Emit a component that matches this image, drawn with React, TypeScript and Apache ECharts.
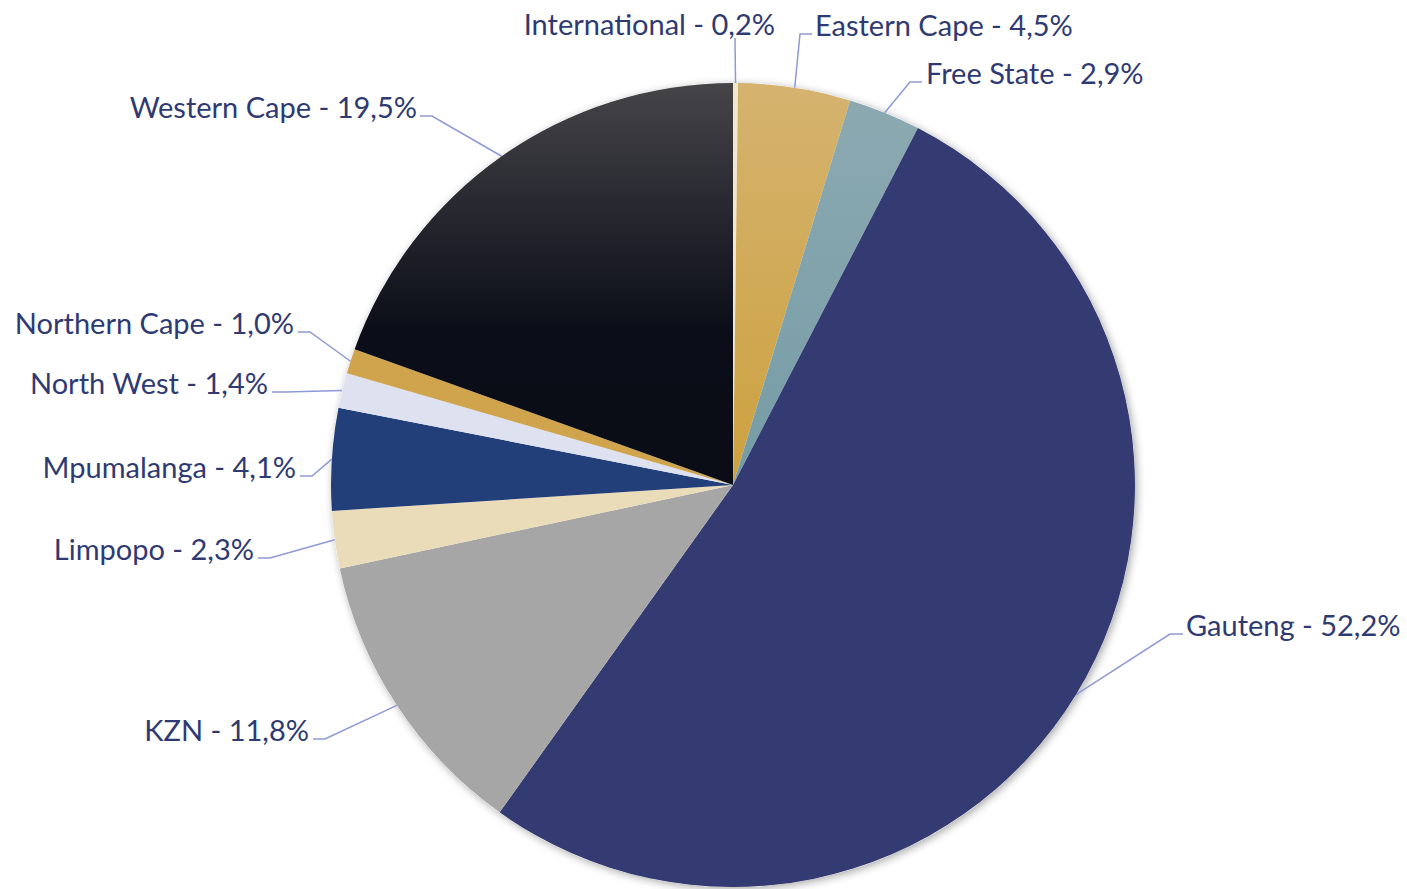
import React, { useEffect, useRef } from "react";
import * as echarts from "echarts";

const categories = [
  "International",
  "Eastern Cape",
  "Free State",
  "Gauteng",
  "KZN",
  "Limpopo",
  "Mpumalanga",
  "North West",
  "Northern Cape",
  "Western Cape",
];
const shares = [0.2, 4.5, 2.9, 52.2, 11.8, 2.3, 4.1, 1.4, 1.0, 19.5];

const lin = (a: string, b: string, mid?: [number, string][]) =>
  new echarts.graphic.LinearGradient(0, 0, 0, 1, [
    { offset: 0, color: a },
    ...(mid || []).map(([o, c]) => ({ offset: o, color: c })),
    { offset: 1, color: b },
  ]);

const colors: any[] = [
  "#f1e8cc",
  lin("#d5b36f", "#cda13f"),
  lin("#8ca9b1", "#759ca6"),
  "#343a72",
  "#a6a6a6",
  "#ebdcb9",
  "#233f7a",
  "#dde1f0",
  "#cfa44d",
  lin("#454548", "#0a0c16", [
    [0.4, "#1f2029"],
    [0.62, "#0b0d18"],
  ]),
];

// label placement: [x, y, align, lineElbowX, lineEndX]
const labelPlace: [number, number, string, number, number][] = [
  [775, 23, "right", 735, 735],
  [815, 24, "left", 800, 812],
  [926, 72, "left", 910, 922],
  [1186, 624, "left", 1170, 1183],
  [309, 729, "right", 325, 313],
  [254, 548, "right", 270, 258],
  [296, 466, "right", 312, 300],
  [268, 382, "right", 285, 272],
  [294, 322, "right", 310, 298],
  [417, 106, "right", 432, 420],
];

export default function App() {
  const ref = useRef<HTMLDivElement>(null);
  useEffect(() => {
    const chart = echarts.init(ref.current!, null, { renderer: "svg" });
    chart.setOption({
      animation: false,
      backgroundColor: "#ffffff",
      series: [
        {
          type: "pie",
          silent: true,
          center: [733, 485],
          radius: 402,
          z: 1,
          label: { show: false },
          labelLine: { show: false },
          itemStyle: {
            color: "#ffffff",
            shadowBlur: 8,
            shadowColor: "rgba(0,0,0,0.35)",
            shadowOffsetX: 2,
            shadowOffsetY: 2,
          },
          data: [{ value: 1, name: "" }],
        },
        {
          type: "pie",
          center: [733, 485],
          radius: 402,
          z: 2,
          startAngle: 90,
          clockwise: true,
          avoidLabelOverlap: false,
          itemStyle: { borderWidth: 0 },
          label: {
            show: true,
            position: "outside",
            color: "#2f3a72",
            fontFamily: "Lato",
            fontSize: 29,
            formatter: (p: any) =>
              p.name + " - " + Number(p.value).toFixed(1).replace(".", ",") + "%",
          },
          labelLine: {
            show: true,
            lineStyle: { color: "#8e9ad6", width: 1.5 },
          },
          labelLayout: (params: any) => {
            const pl = labelPlace[params.dataIndex];
            const start = params.labelLinePoints
              ? params.labelLinePoints[0]
              : [0, 0];
            const ly = params.dataIndex === 0 ? 38 : pl[1] + 10;
            return {
              x: pl[0],
              y: pl[1],
              align: pl[2],
              verticalAlign: "middle",
              labelLinePoints: [start, [pl[3], ly], [pl[4], ly]],
            };
          },
          data: categories.map((c, i) => ({
            name: c,
            value: shares[i],
            itemStyle: { color: colors[i] },
          })),
        },
      ],
    });
    return () => chart.dispose();
  }, []);
  return (
    <div
      ref={ref}
      style={{ position: "fixed", left: 0, top: 0, width: 1407, height: 889 }}
    />
  );
}
